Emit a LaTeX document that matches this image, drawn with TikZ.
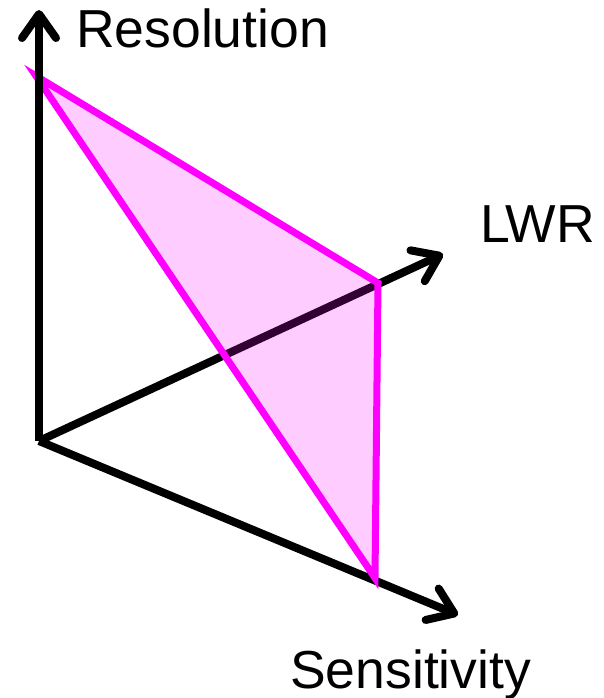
\documentclass[tikz,border=0pt]{standalone}
\usepackage{fontspec}
\setmainfont{Liberation Sans}
\usetikzlibrary{arrows.meta}
\tikzset{
  axis/.style={line width=8pt, black, -{Straight Barb[length=24pt, width=34pt, round]}},
  tri/.style={line width=7pt, draw={rgb,255:red,255;green,0;blue,255}, fill={rgb,255:red,255;green,0;blue,255}, fill opacity=0.2, draw opacity=1, line join=miter},
  lab/.style={inner sep=0pt, anchor=base west, font=\fontsize{53.5}{60}\selectfont}
}
\begin{document}
\begin{tikzpicture}[x=1pt, y=-1pt]
\useasboundingbox (0,0) rectangle (603,698);
\coordinate (O) at (39,441);
\coordinate (top) at (39,10);
\coordinate (lwr) at (443,254);
\coordinate (sens) at (458,615);
\coordinate (A) at (36,76);
\coordinate (B) at (378,283);
\coordinate (C) at (375,578);
\draw[axis] (O) -- (lwr);
\draw[axis] (O) -- (sens);
\draw[tri] (A) -- (B) -- (C) -- cycle;
\draw[axis] (O) -- (top);
\node[lab] (res) at (76,48) {Resolution};
\node[lab] (lw) at (480,242) {LWR};
\node[lab] (se) at (290,688) {Sensitivity};
\end{tikzpicture}
\end{document}
